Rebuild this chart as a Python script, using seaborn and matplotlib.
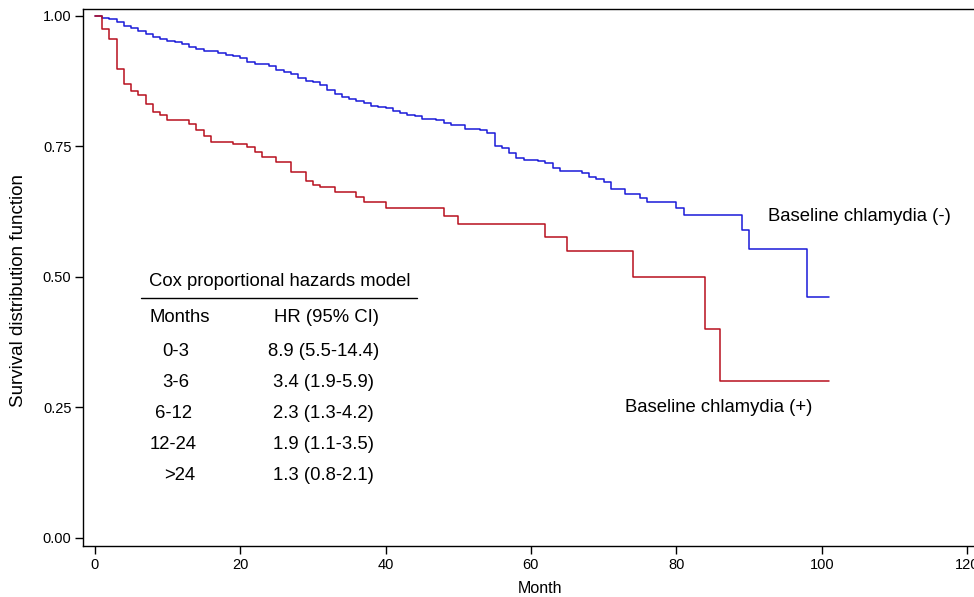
import pandas as pd
import seaborn as sns
import matplotlib.pyplot as plt

# Kaplan-Meier steps (month of drop, survival after drop)
neg_months = [0, 1, 2, 3, 4, 5, 6, 7, 8, 9, 10, 11, 12, 13, 14, 15, 17, 18, 19, 20,
              21, 22, 24, 25, 26, 27, 28, 29, 30, 31, 32, 33, 34, 35, 36, 37, 38, 39,
              40, 41, 42, 43, 44, 45, 47, 48, 49, 51, 53, 54, 55, 56, 57, 58, 59, 61,
              62, 63, 64, 67, 68, 69, 70, 71, 73, 75, 76, 80, 81, 89, 90, 98]
neg_surv = [1.0, 0.996, 0.993, 0.988, 0.980, 0.976, 0.971, 0.966, 0.960, 0.955, 0.952,
            0.950, 0.946, 0.941, 0.937, 0.932, 0.929, 0.925, 0.922, 0.919, 0.912, 0.908,
            0.903, 0.896, 0.893, 0.888, 0.880, 0.875, 0.873, 0.867, 0.858, 0.851, 0.844,
            0.840, 0.836, 0.832, 0.828, 0.825, 0.823, 0.817, 0.813, 0.810, 0.808, 0.803,
            0.800, 0.794, 0.791, 0.783, 0.781, 0.775, 0.750, 0.747, 0.737, 0.728, 0.724,
            0.721, 0.718, 0.709, 0.703, 0.699, 0.692, 0.687, 0.681, 0.668, 0.659, 0.651,
            0.643, 0.631, 0.618, 0.590, 0.553, 0.461]

pos_months = [0, 1, 2, 3, 4, 5, 6, 7, 8, 9, 10, 13, 14, 15, 16, 19, 21, 22, 23, 25,
              27, 29, 30, 31, 33, 36, 37, 40, 48, 50, 62, 65, 74, 84, 86]
pos_surv = [1.0, 0.974, 0.956, 0.898, 0.869, 0.856, 0.848, 0.831, 0.816, 0.810, 0.801,
            0.792, 0.781, 0.769, 0.759, 0.755, 0.748, 0.739, 0.730, 0.719, 0.700, 0.684,
            0.676, 0.671, 0.663, 0.653, 0.643, 0.632, 0.616, 0.602, 0.577, 0.549, 0.500,
            0.400, 0.300]

end_month = 101

groups = ["Baseline chlamydia (-)", "Baseline chlamydia (+)"]

hr_periods = ["0-3", "3-6", "6-12", "12-24", ">24"]
hr_values = ["8.9 (5.5-14.4)", "3.4 (1.9-5.9)", "2.3 (1.3-4.2)",
             "1.9 (1.1-3.5)", "1.3 (0.8-2.1)"]

df = pd.concat([
    pd.DataFrame({"Month": neg_months + [end_month],
                  "Survival": neg_surv + [neg_surv[-1]],
                  "group": groups[0]}),
    pd.DataFrame({"Month": pos_months + [end_month],
                  "Survival": pos_surv + [pos_surv[-1]],
                  "group": groups[1]}),
], ignore_index=True)

sns.set_theme(style="white")
plt.rcParams['font.family'] = ['Liberation Sans', 'DejaVu Sans']

W, H = 974, 597
fig = plt.figure(figsize=(W / 100, H / 100), dpi=100)
# axes runs past the right edge of the picture, like the cropped original
x_lo, x_hi = -1.57, 124
left_px, right_px = 83.3, 94.7 + x_hi * 7.27
top_px, bot_px = 9, 545.7
ax = fig.add_axes([left_px / W, (H - bot_px) / H,
                   (right_px - left_px) / W, (bot_px - top_px) / H])

sns.lineplot(data=df, x="Month", y="Survival", hue="group",
             palette={groups[0]: "#1a1ad8", groups[1]: "#b8101e"},
             drawstyle="steps-post", estimator=None, sort=False,
             linewidth=1.1, legend=False, ax=ax)

ax.set_xlim(x_lo, x_hi)
ax.set_ylim(-0.0153, 1.013)
ax.set_xticks([0, 20, 40, 60, 80, 100, 120])
ax.set_yticks([0, 0.25, 0.5, 0.75, 1.0])
ax.set_yticklabels(["0.00", "0.25", "0.50", "0.75", "1.00"])
ax.tick_params(axis="both", which="major", direction="out", length=5.5, width=1,
               color="black", labelsize=10.5, labelcolor="black", bottom=True, left=True,
               pad=3)
for s in ax.spines.values():
    s.set_color("black")
    s.set_linewidth(1.0)

ax.set_xlabel("Month", fontsize=11.5, color="black", labelpad=7)
ax.set_ylabel("Survival distribution function", fontsize=13.5, color="black")
ax.yaxis.set_label_coords((27 - left_px) / (right_px - left_px), 0.476)

# curve labels
fs = 13.3
ax.text(92.6, 0.615, groups[0], fontsize=fs, ha="left", va="center", color="black")
ax.text(72.9, 0.250, groups[1], fontsize=fs, ha="left", va="center", color="black")

# hazard ratio table
ax.text(25.4, 0.490, "Cox proportional hazards model", fontsize=fs,
        ha="center", va="center", color="black")
ax.plot([6.4, 44.3], [0.460, 0.460], color="black", linewidth=1.0)
ax.text(11.7, 0.422, "Months", fontsize=fs, ha="center", va="center", color="black")
ax.text(31.9, 0.422, "HR (95% CI)", fontsize=fs, ha="center", va="center", color="black")
row_y = [0.356, 0.297, 0.238, 0.178, 0.120]
row_x = [11.1, 11.1, 10.8, 10.8, 11.7]
for px, py, per, val in zip(row_x, row_y, hr_periods, hr_values):
    ax.text(px, py, per, fontsize=fs, ha="center", va="center", color="black")
    ax.text(31.5, py, val, fontsize=fs, ha="center", va="center", color="black")

fig.savefig("out.png", dpi=100)
